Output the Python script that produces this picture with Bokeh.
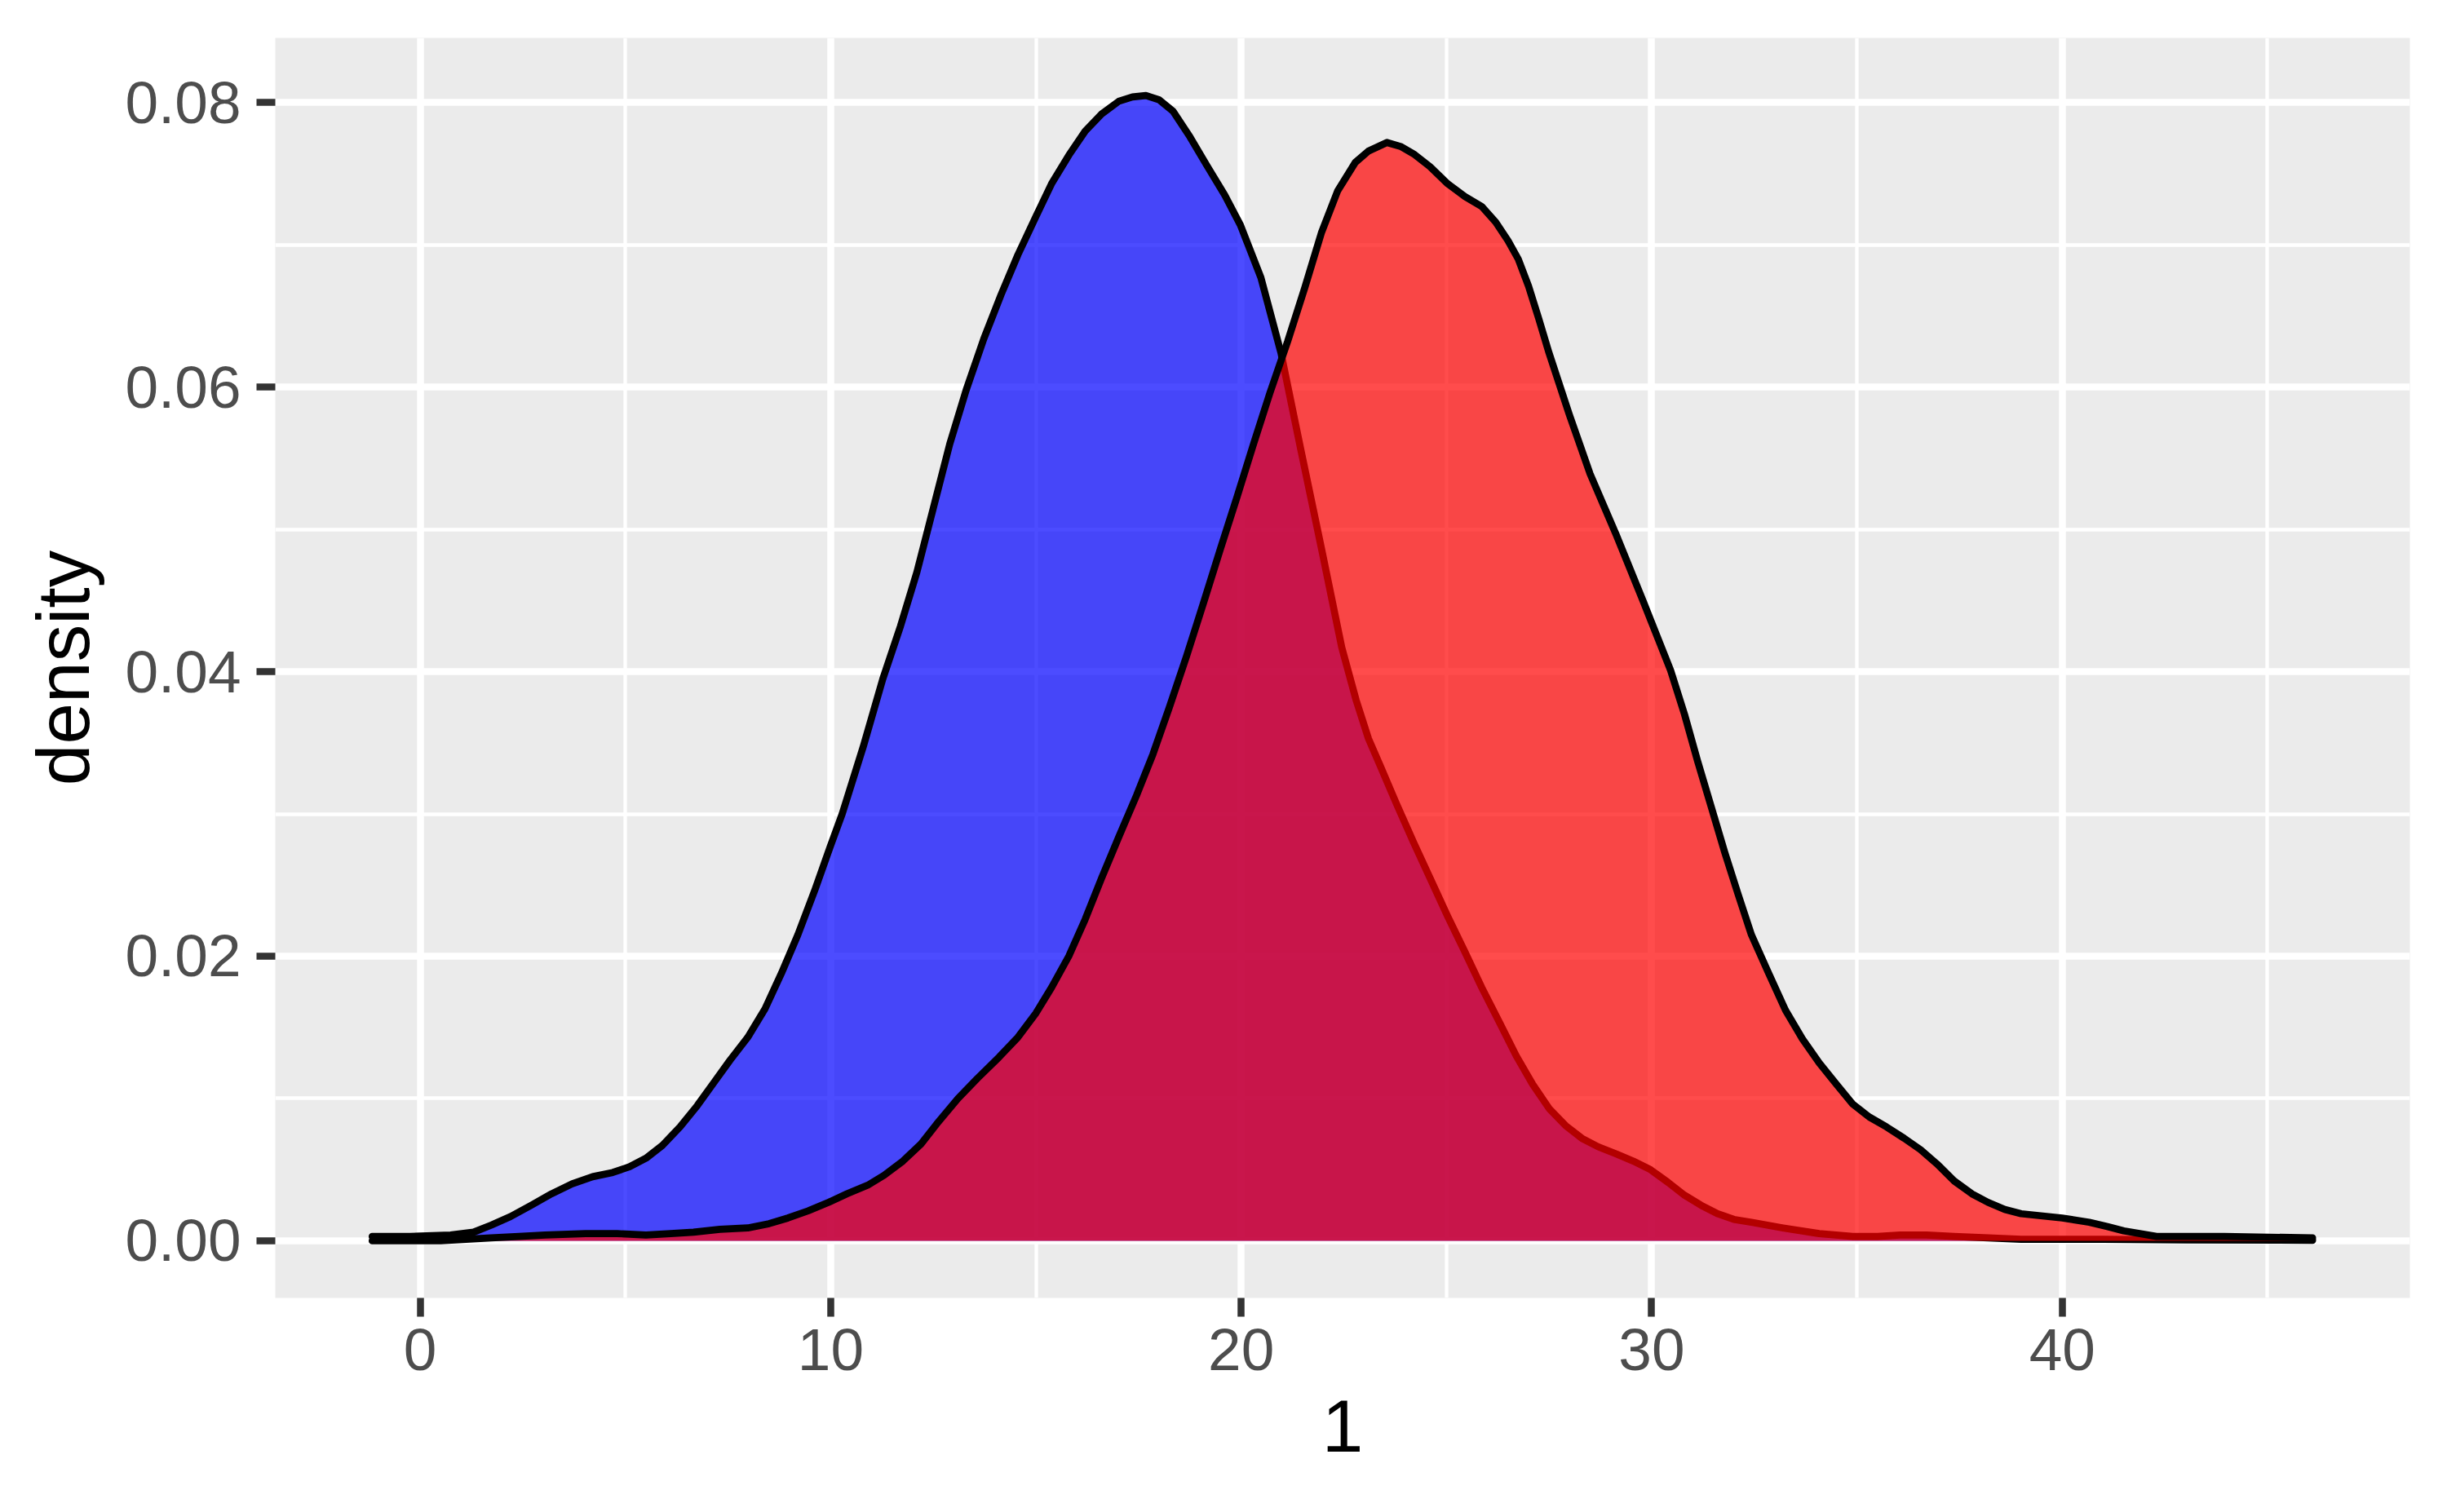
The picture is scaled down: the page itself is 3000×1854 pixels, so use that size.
from bokeh.plotting import figure
from bokeh.models import ColumnDataSource, Range1d, FixedTicker, NumeralTickFormatter
from bokeh.embed import file_html
from bokeh.resources import INLINE

# ---- data (kernel density estimates) ----
blue_x = [-1.17, -0.25, 0.74, 1.3, 1.73, 2.2, 2.71, 3.2, 3.7, 4.2, 4.69, 5.1, 5.5, 5.9,
          6.33, 6.75, 7.15, 7.55, 7.98, 8.4, 8.8, 9.2, 9.62, 10.0, 10.28, 10.8, 11.27,
          11.7, 12.1, 12.5, 12.9, 13.3, 13.73, 14.15, 14.56, 15.0, 15.38, 15.8, 16.2,
          16.6, 17.02, 17.35, 17.68, 18.0, 18.34, 18.75, 19.16, 19.6, 19.98, 20.48,
          20.97, 21.46, 21.96, 22.45, 22.8, 23.1, 23.4, 23.77, 24.2, 24.6, 25.03, 25.45,
          25.86, 26.3, 26.7, 27.1, 27.5, 27.9, 28.3, 28.7, 29.14, 29.55, 29.97, 30.4,
          30.8, 31.2, 31.6, 32.0, 32.43, 33.2, 34.08, 34.9, 35.5, 36.05, 36.7, 37.37,
          38.2, 39.0, 41.0, 43.0, 46.1]
blue_density = [0.0003, 0.0003, 0.0004, 0.0006, 0.0011, 0.0017, 0.0025, 0.0033, 0.0040,
                0.0045, 0.0048, 0.0052, 0.0058, 0.0067, 0.0080, 0.0095, 0.0111, 0.0127,
                0.0143, 0.0163, 0.0188, 0.0215, 0.0247, 0.0278, 0.0300, 0.0348, 0.0395,
                0.0432, 0.0470, 0.0515, 0.0560, 0.0598, 0.0634, 0.0665, 0.0693, 0.0720,
                0.0743, 0.0763, 0.0780, 0.0792, 0.0801, 0.0804, 0.0805, 0.0802, 0.0794,
                0.0776, 0.0756, 0.0735, 0.0714, 0.0677, 0.0624, 0.0555, 0.0486, 0.0417,
                0.0380, 0.0353, 0.0333, 0.0308, 0.0280, 0.0255, 0.0228, 0.0203, 0.0178,
                0.0153, 0.0130, 0.0110, 0.0093, 0.0081, 0.0072, 0.0066, 0.0061, 0.0056,
                0.0050, 0.0041, 0.0032, 0.0025, 0.0019, 0.0015, 0.0013, 0.0009, 0.0005,
                0.0003, 0.0003, 0.0004, 0.0004, 0.0003, 0.0002, 0.0001, 0.0001, 0.00005,
                0.00003]

red_x = [-1.17, 0.5, 1.73, 2.4, 3.04, 4.03, 4.8, 5.5, 6.1, 6.66, 7.3, 7.98, 8.5, 8.96,
         9.45, 9.95, 10.4, 10.9, 11.3, 11.76, 12.2, 12.58, 13.1, 13.57, 14.1, 14.56,
         15.0, 15.38, 15.8, 16.2, 16.6, 17.02, 17.45, 17.85, 18.25, 18.67, 19.1, 19.49,
         19.9, 20.3, 20.7, 21.13, 21.55, 21.96, 22.35, 22.78, 23.1, 23.55, 23.9, 24.2,
         24.6, 25.03, 25.45, 25.86, 26.2, 26.5, 26.75, 27.0, 27.25, 27.5, 27.99, 28.5,
         29.14, 29.8, 30.46, 30.8, 31.12, 31.45, 31.78, 32.1, 32.43, 32.85, 33.26, 33.67,
         34.08, 34.5, 34.9, 35.3, 35.72, 36.15, 36.55, 36.95, 37.37, 37.8, 38.19, 38.6,
         39.0, 40.0, 40.66, 41.1, 41.5, 42.3, 43.95, 46.1]
red_density = [0.0000, 0.0000, 0.0002, 0.0003, 0.0004, 0.0005, 0.0005, 0.0004, 0.0005,
               0.0006, 0.0008, 0.0009, 0.0012, 0.0016, 0.0021, 0.0027, 0.0033, 0.0039,
               0.0046, 0.0056, 0.0068, 0.0082, 0.0100, 0.0114, 0.0129, 0.0143, 0.0160,
               0.0178, 0.0200, 0.0226, 0.0255, 0.0284, 0.0313, 0.0342, 0.0375, 0.0411,
               0.0450, 0.0486, 0.0523, 0.0560, 0.0596, 0.0632, 0.0670, 0.0709, 0.0738,
               0.0758, 0.0766, 0.0772, 0.0769, 0.0764, 0.0755, 0.0743, 0.0734, 0.0727,
               0.0716, 0.0703, 0.0690, 0.0671, 0.0648, 0.0624, 0.0581, 0.0539, 0.0496,
               0.0449, 0.0401, 0.0370, 0.0337, 0.0305, 0.0273, 0.0244, 0.0215, 0.0188,
               0.0162, 0.0142, 0.0125, 0.0110, 0.0096, 0.0087, 0.0080, 0.0072, 0.0064,
               0.0054, 0.0042, 0.0033, 0.0027, 0.0022, 0.0019, 0.0016, 0.0013, 0.0010,
               0.0007, 0.0003, 0.0003, 0.0002]

x_ticks = [0, 10, 20, 30, 40]
x_minor = [5, 15, 25, 35, 45]
y_ticks = [0.00, 0.02, 0.04, 0.06, 0.08]
y_minor = [0.01, 0.03, 0.05, 0.07]
x_title = "1"
y_title = "density"

FONT = "Liberation Sans"

p = figure(width=2984, height=1838, output_backend="svg", toolbar_location=None,
           x_range=Range1d(-3.53, 48.47), y_range=Range1d(-0.00402, 0.08455),
           min_border_left=337, min_border_right=30, min_border_top=46,
           min_border_bottom=247)
p.background_fill_color = "#EBEBEB"
p.border_fill_color = "white"
p.outline_line_color = None

blue_src = ColumnDataSource(dict(x=blue_x, y=blue_density))
red_src = ColumnDataSource(dict(x=red_x, y=red_density))

p.varea(x="x", y1=0, y2="y", source=blue_src, fill_color="blue", fill_alpha=0.7)
p.line(x="x", y="y", source=blue_src, line_color="black", line_width=8.7,
       line_join="round", line_cap="round")
p.varea(x="x", y1=0, y2="y", source=red_src, fill_color="red", fill_alpha=0.7)
p.line(x="x", y="y", source=red_src, line_color="black", line_width=8.7,
       line_join="round", line_cap="round")

p.xaxis.ticker = FixedTicker(ticks=x_ticks, minor_ticks=x_minor)
p.yaxis.ticker = FixedTicker(ticks=y_ticks, minor_ticks=y_minor)
p.yaxis.formatter = NumeralTickFormatter(format="0.00")

for ax in (p.xaxis, p.yaxis):
    ax.axis_line_color = None
    ax.major_tick_line_color = "#333333"
    ax.major_tick_line_width = 8.5
    ax.major_tick_in = 0
    ax.major_tick_out = 23
    ax.minor_tick_line_color = None
    ax.major_label_text_font = FONT
    ax.major_label_text_font_size = "73px"
    ax.major_label_text_color = "#4D4D4D"
    ax.axis_label_text_font = FONT
    ax.axis_label_text_font_size = "91px"
    ax.axis_label_text_font_style = "normal"
    ax.axis_label_text_color = "black"

p.xaxis.axis_label = x_title
p.yaxis.axis_label = y_title
p.xaxis.major_label_standoff = 15
p.xaxis.axis_label_standoff = 34
p.yaxis.major_label_standoff = 19
p.yaxis.axis_label_standoff = 22

for g in (p.xgrid, p.ygrid):
    g.grid_line_color = "white"
    g.grid_line_width = 8.5
    g.minor_grid_line_color = "white"
    g.minor_grid_line_width = 4.3

with open("out.html", "w") as f:
    f.write(file_html(p, INLINE))
